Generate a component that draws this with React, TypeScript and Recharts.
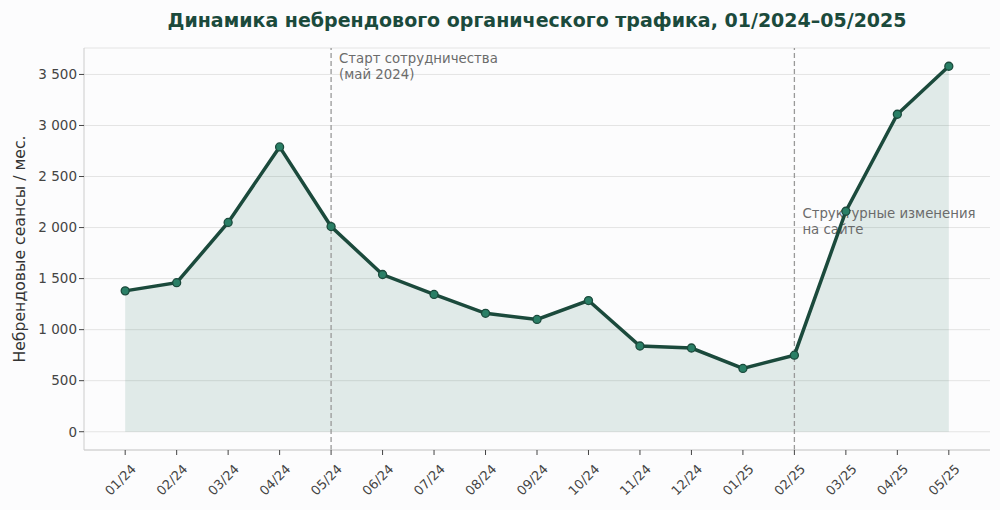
import {
  ComposedChart,
  Area,
  Line,
  XAxis,
  YAxis,
  CartesianGrid,
  ReferenceLine,
} from "recharts";

const months = [
  "01/24", "02/24", "03/24", "04/24", "05/24", "06/24", "07/24", "08/24", "09/24",
  "10/24", "11/24", "12/24", "01/25", "02/25", "03/25", "04/25", "05/25",
];
const sessions = [
  1380, 1460, 2050, 2790, 2010, 1540, 1345, 1160, 1100,
  1285, 840, 820, 620, 750, 2160, 3110, 3580,
];
const yTicks = [0, 500, 1000, 1500, 2000, 2500, 3000, 3500];
const startMonth = 4; // 05/24
const changeMonth = 13; // 02/25

const data = months.map((m, i) => ({ i, m, v: sessions[i] }));

const FONT = "'DejaVu Sans', sans-serif";
const DARK = "#1b4a3c";
const Y_MIN = -179;
const Y_MAX = 3759;

const fmt = (n: number) => String(n).replace(/\B(?=(\d{3})+(?!\d))/g, "\u00a0");

function XTick({ x, y, payload }: any) {
  const tx = x + 5;
  const ty = y + 6;
  return (
    <text
      x={tx}
      y={ty}
      textAnchor="end"
      dominantBaseline="hanging"
      transform={`rotate(-45 ${tx} ${ty})`}
      fontFamily={FONT}
      fontSize={13}
      fill="#444"
    >
      {months[payload.value]}
    </text>
  );
}

function Note({ viewBox, lines, val }: any) {
  if (!viewBox) return null;
  const y = viewBox.y + ((Y_MAX - val) / (Y_MAX - Y_MIN)) * viewBox.height;
  return (
    <text x={viewBox.x + 8} y={y} fontFamily={FONT} fontSize={13.3} fill="#6b6b6b" dominantBaseline="central">
      {lines.map((l: string, k: number) => (
        <tspan key={k} x={viewBox.x + 8} dy={k === 0 ? 0 : 15.5}>
          {l}
        </tspan>
      ))}
    </text>
  );
}

function YLabel() {
  return (
    <text
      x={19}
      y={249}
      transform="rotate(-90 19 249)"
      textAnchor="middle"
      dominantBaseline="central"
      fontFamily={FONT}
      fontSize={15.7}
      fill="#333"
    >
      Небрендовые сеансы / мес.
    </text>
  );
}

export default function App() {
  return (
    <div style={{ position: "absolute", left: 0, top: 0, width: 1000, height: 510, background: "#fcfcfd" }}>
      <div
        style={{
          position: "absolute",
          top: 9,
          left: 84,
          width: 906,
          textAlign: "center",
          fontFamily: FONT,
          fontWeight: "bold",
          fontSize: 19,
          color: DARK,
        }}
      >
        Динамика небрендового органического трафика, 01/2024–05/2025
      </div>
      <ComposedChart
        width={1000}
        height={510}
        data={data}
        margin={{ top: 48, right: 10, bottom: 0, left: 0 }}
      >
        <CartesianGrid vertical={false} stroke="#e4e4e4" />
        <XAxis
          type="number"
          dataKey="i"
          domain={[-0.8, 16.8]}
          ticks={months.map((_, i) => i)}
          interval={0}
          height={60}
          axisLine={{ stroke: "#cccccc" }}
          tickLine={{ stroke: "#444" }}
          tickSize={5}
          tick={<XTick />}
        />
        <YAxis
          domain={[Y_MIN, Y_MAX]}
          ticks={yTicks}
          allowDataOverflow
          width={84}
          axisLine={{ stroke: "#cccccc" }}
          tickLine={{ stroke: "#444" }}
          tickSize={5}
          tickFormatter={fmt}
          tick={{ fontFamily: FONT, fontSize: 13.5, fill: "#444" }}
          label={<YLabel />}
        />
        <Area
          type="linear"
          dataKey="v"
          baseValue={0}
          stroke="none"
          fill="#1b6a55"
          fillOpacity={0.12}
          isAnimationActive={false}
        />
        <ReferenceLine
          x={startMonth}
          stroke="#999"
          strokeDasharray="5 3"
          strokeWidth={1.3}
          label={<Note lines={["Старт сотрудничества", "(май 2024)"]} val={3661} />}
        />
        <ReferenceLine
          x={changeMonth}
          stroke="#999"
          strokeDasharray="5 3"
          strokeWidth={1.3}
          label={<Note lines={["Структурные изменения", "на сайте"]} val={2142} />}
        />
        <Line
          type="linear"
          dataKey="v"
          stroke={DARK}
          strokeWidth={3.5}
          dot={{ r: 4, fill: "#2a7f66", stroke: DARK, strokeWidth: 1.3 }}
          activeDot={false}
          isAnimationActive={false}
        />
      </ComposedChart>
    </div>
  );
}
